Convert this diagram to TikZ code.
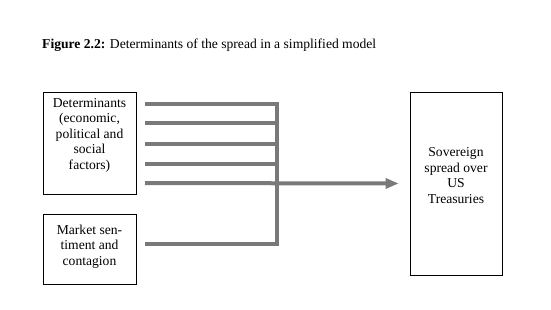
\documentclass[tikz,border=0pt]{standalone}
\usepackage{fontspec}
\setmainfont{Liberation Serif}
\usetikzlibrary{arrows.meta,calc}
\begin{document}
\begin{tikzpicture}[x=1pt,y=-1pt,
  box/.style={draw=black,line width=0.8pt,minimum width=#1,inner sep=0pt},
  txt/.style={align=center,font=\fontsize{13.6}{15.5}\selectfont,inner sep=0pt},
  feed/.style={draw=gray!95!black,line width=4pt},
  flow/.style={draw=gray!95!black,line width=4pt,-{Triangle[length=13pt,width=10pt]}}]
\useasboundingbox (0,0) rectangle (551,310);
\node[anchor=base west,inner sep=0pt,font=\fontsize{13.6}{15}\selectfont] (title) at (42,49) {\textbf{Figure 2.2:} Determinants of the spread in a simplified model};
\node[box=93pt,minimum height=102pt] (det) at (89.5,143) {};
\node[txt] (dett) at (89.5,135) {Determinants\\(economic,\\political and\\social\\factors)};
\node[box=93pt,minimum height=70pt] (mkt) at (89.5,249) {};
\node[txt] (mktt) at (89.5,246.5) {Market sen-\\timent and\\contagion};
\node[box=92pt,minimum height=183pt] (sov) at (456,183.5) {};
\node[txt] (sovt) at (456,175.5) {Sovereign\\spread over\\US\\Treasuries};
\coordinate (s1) at (145,104);
\coordinate (s2) at (145,123);
\coordinate (s3) at (145,144);
\coordinate (s4) at (145,164);
\coordinate (s5) at (145,183);
\coordinate (s6) at (145,244);
\coordinate (j1) at (277,104);
\coordinate (j6) at (277,244);
\coordinate (tip) at ($(sov.west)+(-11,0)$);
\draw[feed,line join=miter] (s1) -- (j1) -- (j6) -- (s6);
\draw[feed] (s2) -- (s2 -| j1);
\draw[feed] (s3) -- (s3 -| j1);
\draw[feed] (s4) -- (s4 -| j1);
\draw[flow] (s5) -- (tip);
\end{tikzpicture}
\end{document}
